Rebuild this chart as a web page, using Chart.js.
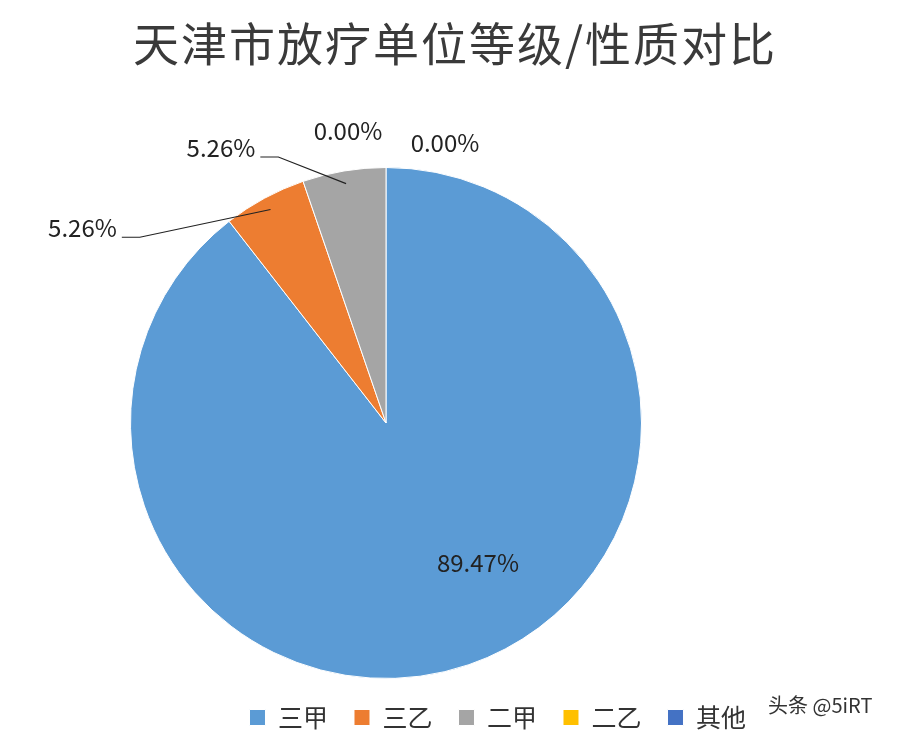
<!DOCTYPE html>
<html><head><meta charset="utf-8">
<script src="https://cdn.jsdelivr.net/npm/chart.js@4/dist/chart.umd.min.js"></script>
<style>
body{margin:0;background:#fff;}
#wrap{position:relative;width:924px;height:740px;}
#title{position:absolute;left:0;top:8px;width:910px;text-align:center;font:46px "Noto Sans CJK SC";color:#3a3a3a;letter-spacing:2px;}
#wm{position:absolute;left:768px;top:690px;font:20px "Noto Sans CJK SC";color:#333;}
</style></head><body>
<div id="wrap">
<div id="title">天津市放疗单位等级/性质对比</div>
<canvas id="c" width="924" height="740"></canvas>
<div id="wm">头条 @5iRT</div>
</div>
<script>
const categories = ['三甲','三乙','二甲','二乙','其他'];
const values = [89.47, 5.26, 5.26, 0.00, 0.00];
const valueLabels = ['89.47%','5.26%','5.26%','0.00%','0.00%'];
const colors = ['#5B9BD5','#ED7D31','#A5A5A5','#FFC000','#4472C4'];

// label placement: mode 'center' = offset from pie center; 'outer' = offset from arc outer mid point
const placement = [
  {mode:'center',dx:92,dy:140,line:false},
  {mode:'outer',dx:-182,dy:30,line:true},
  {mode:'outer',dx:-123,dy:-23,line:true},
  {mode:'outer',dx:-38,dy:-37,line:false},
  {mode:'outer',dx:59,dy:-25,line:false}
];

const labelPlugin = {
  id:'pieLabels',
  afterDatasetsDraw(chart){
    const ctx = chart.ctx;
    const meta = chart.getDatasetMeta(0);
    ctx.save();
    ctx.font = '24px "Noto Sans CJK SC"';
    ctx.fillStyle = '#222';
    ctx.textAlign='center'; ctx.textBaseline='middle';
    meta.data.forEach((arc,i)=>{
      const p = arc.getProps(['x','y','startAngle','endAngle','outerRadius'],true);
      const mid = (p.startAngle+p.endAngle)/2;
      const ox = p.x + Math.cos(mid)*p.outerRadius, oy = p.y + Math.sin(mid)*p.outerRadius;
      const pl = placement[i];
      let lx, ly;
      if(pl.mode==='center'){lx=p.x+pl.dx;ly=p.y+pl.dy;} else {lx=ox+pl.dx;ly=oy+pl.dy;}
      ctx.fillText(valueLabels[i],lx,ly);
      if(pl.line){
        const w = ctx.measureText(valueLabels[i]).width;
        const sx = lx+w/2+5, sy = ly+9;
        const ax = p.x + Math.cos(mid)*p.outerRadius*0.95, ay = p.y + Math.sin(mid)*p.outerRadius*0.95;
        ctx.beginPath(); ctx.strokeStyle='#222'; ctx.lineWidth=1.2;
        ctx.moveTo(sx,sy); ctx.lineTo(sx+18,sy); ctx.lineTo(ax,ay); ctx.stroke();
      }
    });
    ctx.restore();
  }
};

new Chart(document.getElementById('c'),{
  type:'pie',
  data:{labels:categories,datasets:[{data:values,backgroundColor:colors,borderColor:'#fff',borderWidth:1}]},
  options:{
    responsive:false,animation:false,
    layout:{padding:{top:167,right:152,left:0,bottom:0}},
    plugins:{
      title:{display:false},tooltip:{enabled:false},
      legend:{position:'bottom',align:'end',
        labels:{font:{size:25,family:'"Noto Sans CJK SC"'},color:'#333',boxWidth:16,boxHeight:16,padding:26}}
    }
  },
  plugins:[labelPlugin]
});
</script>
</body></html>
